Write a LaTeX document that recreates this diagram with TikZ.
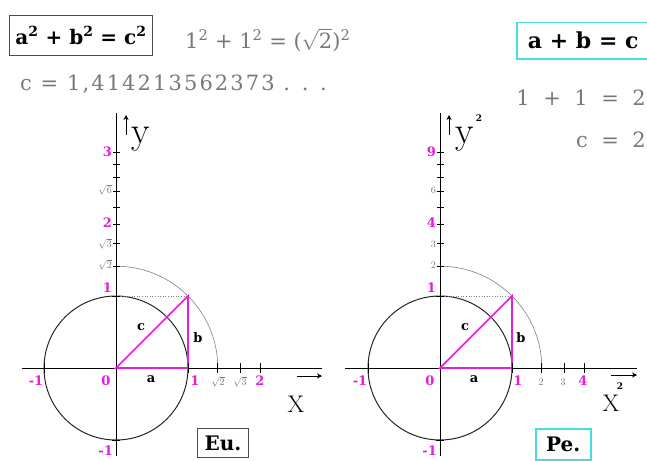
\documentclass[tikz,border=0pt]{standalone}
\usepackage{fontspec}
\usetikzlibrary{arrows.meta}
\newfontfamily\dvs{DejaVu Serif}
\newfontfamily\dvsw{DejaVu Serif}[LetterSpace=10]
\newfontfamily\dvss{DejaVu Serif}[LetterSpace=4,WordSpace=1.8]
\definecolor{mag}{RGB}{225,30,225}
\definecolor{cy}{RGB}{70,220,225}
\definecolor{gtx}{RGB}{120,120,120}
\definecolor{gln}{RGB}{130,130,130}
\tikzset{
  ax/.style={line width=0.8pt,black},
  circ/.style={line width=1pt,black!85},
  arcg/.style={line width=0.6pt,gln},
  dotg/.style={line width=0.6pt,gln,dotted},
  tri/.style={line width=1.6pt,mag},
  tk/.style={line width=0.9pt,black},
  mlab/.style={text=mag,font=\dvs\bfseries\fontsize{13}{13}\selectfont,inner sep=0pt},
  glab/.style={text=gtx,font=\fontsize{10}{10}\selectfont,inner sep=0pt},
  slab/.style={text=black,font=\dvs\bfseries\fontsize{13}{13}\selectfont,inner sep=0pt},
  bigl/.style={font=\fontsize{38}{38}\selectfont,inner sep=0pt},
  xl/.style={font=\fontsize{24}{24}\selectfont,inner sep=0pt},
  gtext/.style={text=gtx,font=\dvs\fontsize{21}{21}\selectfont,inner sep=0pt},
  gtextw/.style={text=gtx,font=\dvsw\fontsize{21}{21}\selectfont,inner sep=0pt},
  gtexts/.style={text=gtx,font=\dvss\fontsize{21}{21}\selectfont,inner sep=0pt},
  btext/.style={text=black,font=\dvs\bfseries\fontsize{20}{20}\selectfont,inner sep=0pt},
  arr/.style={line width=1pt,-{Stealth[length=5pt,width=5pt]}},
}
\begin{document}
\begin{tikzpicture}[x=1pt,y=-1pt]
\useasboundingbox (0,0) rectangle (647,460);
\fill[white] (0,0) rectangle (647,460);

% ---------- top texts ----------
\node[btext,draw=black!70,line width=1pt,minimum width=143pt,minimum height=40pt,anchor=north west] (eq1) at (9,15)
  {a\textsuperscript{2} + b\textsuperscript{2} = c\textsuperscript{2}};
\node[gtext,anchor=west] (eq2) at (185,40)
  {1\textsuperscript{2} + 1\textsuperscript{2} = ($\sqrt{\mbox{\dvs 2}}$)\textsuperscript{2}};
\node[gtextw,anchor=west] (eq3) at (20,84) {c = 1,414213562373 . . .};

\node[btext,font=\dvs\bfseries\fontsize{22}{22}\selectfont,draw=cy,line width=1.5pt,minimum width=133pt,minimum height=36pt,anchor=north west] (eq4) at (516,22)
  {a + b = c};
\node[gtexts,anchor=east] (eq5) at (646,98) {1 + 1 = 2};
\node[gtexts,anchor=east] (eq6) at (646,140) {c = 2};

% ---------- left diagram (Eu.) ----------
\coordinate (O1) at (116,368);
\coordinate (A1) at (188,368);
\coordinate (B1) at (188,296);
\coordinate (Y1) at (116,296);
\coordinate (YT1) at (116,113);
\coordinate (YB1) at (116,456);
\coordinate (XL1) at (22,368);
\coordinate (XR1) at (322,368);
\draw[ax] (XL1) -- (XR1);
\draw[ax] (YB1) -- (YT1);
\draw[circ] (O1) circle[radius=72];
\draw[arcg] (116,266.2) arc[start angle=-90,end angle=0,radius=101.82];
\draw[dotg] (Y1) -- (B1);
\draw[tri] (O1) -- (A1) -- (B1) -- cycle;
\foreach \k in {2,...,9} {
  \draw[tk] ({116-3.5},{368-72*sqrt(\k)}) -- ({116+3.5},{368-72*sqrt(\k)});
}
\draw[tk] (112,296) -- (120,296);
\draw[tk] (112,440) -- (120,440);
\foreach \v in {1.41421,1.73205,2} {
  \draw[tk] ({116+72*\v},363) -- ({116+72*\v},373);
}
\draw[tk] (44,363) -- (44,373);
\draw[tk] (188,363) -- (188,373);
% y labels
\node[mlab,anchor=east] (l3) at (112,152) {3};
\node[glab,anchor=east] (l6) at (112,190) {$\sqrt{6}$};
\node[mlab,anchor=east] (l2) at (112,223) {2};
\node[glab,anchor=east] (ls3) at (112,244) {$\sqrt{3}$};
\node[glab,anchor=east] (ls2) at (112,265) {$\sqrt{2}$};
\node[mlab,anchor=east] (l1) at (112,288) {1};
\node[mlab,anchor=east] (lm1y) at (113,451) {-1};
% x labels
\node[mlab] (lm1x) at (36,381) {-1};
\node[mlab] (l0) at (106,381) {0};
\node[mlab] (l1x) at (195,381) {1};
\node[glab] (xs2) at (218,382) {$\sqrt{2}$};
\node[glab] (xs3) at (240,382) {$\sqrt{3}$};
\node[mlab] (l2x) at (260,381) {2};
% triangle labels
\node[slab] (la1) at (151,379) {a};
\node[slab] (lb1) at (198,338) {b};
\node[slab] (lc1) at (141,327) {c};
% axis names
\coordinate (ya1) at (126,135);
\coordinate (yb1) at (126,115);
\draw[arr] (ya1) -- (yb1);
\node[bigl,anchor=base west] (ylab1) at (131,143) {y};
\coordinate (xa1) at (297,376);
\coordinate (xb1) at (322,376);
\draw[arr] (xa1) -- (xb1);
\node[xl] (xlab1) at (296,404) {X};
\node[btext,draw=black!70,line width=1pt,minimum width=51pt,minimum height=29pt,anchor=north west] (eu) at (197,428) {Eu.};

% ---------- right diagram (Pe.) ----------
\coordinate (O2) at (440,368);
\coordinate (A2) at (512,368);
\coordinate (B2) at (512,296);
\coordinate (Y2) at (440,296);
\coordinate (YT2) at (440,113);
\coordinate (YB2) at (440,456);
\coordinate (XL2) at (345,368);
\coordinate (XR2) at (637,368);
\draw[ax] (XL2) -- (XR2);
\draw[ax] (YB2) -- (YT2);
\draw[circ] (O2) circle[radius=72];
\draw[arcg] (440,266.2) arc[start angle=-90,end angle=0,radius=101.82];
\draw[dotg] (Y2) -- (B2);
\draw[tri] (O2) -- (A2) -- (B2) -- cycle;
\foreach \k in {2,...,9} {
  \draw[tk] ({440-3.5},{368-72*sqrt(\k)}) -- ({440+3.5},{368-72*sqrt(\k)});
}
\draw[tk] (436,296) -- (444,296);
\draw[tk] (436,440) -- (444,440);
\foreach \v in {1.41421,1.73205,2} {
  \draw[tk] ({440+72*\v},363) -- ({440+72*\v},373);
}
\draw[tk] (368,363) -- (368,373);
\draw[tk] (512,363) -- (512,373);
% y labels
\node[mlab,anchor=east] (r9) at (436,152) {9};
\node[glab,anchor=east] (r6) at (436,190) {6};
\node[mlab,anchor=east] (r4) at (436,223) {4};
\node[glab,anchor=east] (r3) at (436,244) {3};
\node[glab,anchor=east] (r2) at (436,265) {2};
\node[mlab,anchor=east] (r1) at (436,288) {1};
\node[mlab,anchor=east] (rm1y) at (437,451) {-1};
% x labels
\node[mlab] (rm1x) at (360,381) {-1};
\node[mlab] (r0) at (430,381) {0};
\node[mlab] (r1x) at (518,381) {1};
\node[glab] (rx2) at (541,382) {2};
\node[glab] (rx3) at (563,382) {3};
\node[mlab] (rx4) at (583,381) {4};
% triangle labels
\node[slab] (la2) at (474,379) {a};
\node[slab] (lb2) at (521,338) {b};
\node[slab] (lc2) at (465,327) {c};
% axis names
\coordinate (ya2) at (449,135);
\coordinate (yb2) at (449,115);
\draw[arr] (ya2) -- (yb2);
\node[bigl,anchor=base west] (ylab2) at (455,143) {y};
\node[font=\dvs\bfseries\fontsize{9}{9}\selectfont,inner sep=0pt] (ysq2) at (479,118) {2};
\coordinate (xa2) at (611,375);
\coordinate (xb2) at (637,375);
\draw[arr] (xa2) -- (xb2);
\node[xl] (xlab2) at (611,403) {X};
\node[font=\dvs\bfseries\fontsize{9}{9}\selectfont,inner sep=0pt] (xsq2) at (620,386) {2};
\node[btext,draw=cy,line width=1.5pt,minimum width=55pt,minimum height=31pt,anchor=north west] (pe) at (535,428) {Pe.};
\end{tikzpicture}
\end{document}
